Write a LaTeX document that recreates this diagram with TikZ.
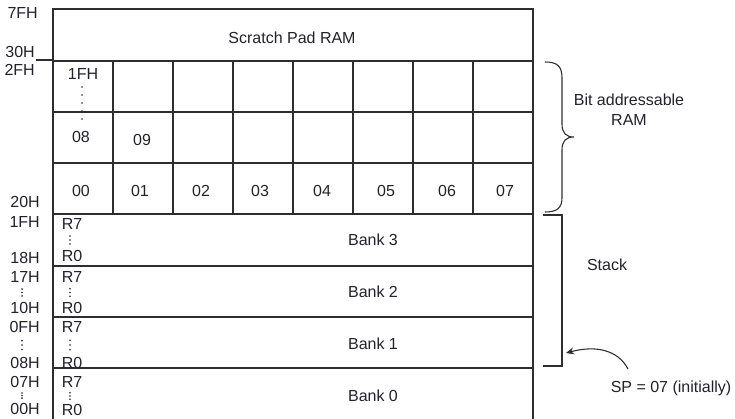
\documentclass[tikz,border=0pt]{standalone}
\usepackage{fontspec}
\setmainfont{Liberation Sans}
\usetikzlibrary{arrows.meta}
\definecolor{ink}{HTML}{222228}
\definecolor{rule}{HTML}{2E2E2E}
\begin{document}
\begin{tikzpicture}[x=1pt,y=-1pt,
  font=\fontsize{16}{19}\selectfont, text=ink,
  frame/.style={draw=rule, line width=1.6pt},
  cell/.style={frame, minimum width=60pt, minimum height=51pt, inner sep=0pt, anchor=north west},
  bankrow/.style={frame, minimum width=480pt, inner sep=0pt, anchor=north west},
  txt/.style={inner sep=0pt},
  addr/.style={inner sep=0pt, anchor=east},
  dotmark/.style={fill=ink, draw=none}]
\useasboundingbox (0,0) rectangle (735,419);

% scratch pad area
\node[frame, minimum width=480pt, minimum height=52pt, inner sep=0pt, anchor=north west] (scratch) at (52,8) {};
\node[txt] (scratchlbl) at (292,38) {Scratch Pad RAM};
\draw[frame] (36,60) -- (52,60);

% bit addressable grid
\foreach \r/\y in {1/60,2/111,3/162}{
  \foreach \c in {0,...,7}{
    \node[cell] (c-\r-\c) at ({52+60*\c},\y) {};
  }
}
\node[txt] (t1fh) at (83,74) {1FH};
\node[txt] (t08) at (81,137) {08};
\node[txt] (t09) at (142,140) {09};
\foreach \c/\v/\dx in {0/00/-1,1/01/-2,2/02/-1,3/03/-2,4/04/0,5/05/4,6/06/5,7/07/3}{
  \node[txt] (b\v) at ({82+60*\c+\dx},191) {\v};
}
\foreach \y in {87,95,103,111,119}{ \fill[dotmark] (82,\y) circle (0.9pt); }

% register banks
\node[bankrow, minimum height=52pt] (bank3) at (52,213) {};
\node[bankrow, minimum height=51pt] (bank2) at (52,265) {};
\node[bankrow, minimum height=51pt] (bank1) at (52,316) {};
\node[bankrow, minimum height=53pt] (bank0) at (52,367) {};
\foreach \n/\top/\bot/\mid in {3/224/256/240, 2/277/308/292, 1/327/363/344, 0/382/410/396}{
  \node[txt] (r7-\n) at (72,\top) {R7};
  \node[txt] (r0-\n) at (72,\bot) {R0};
  \node[txt] (bl-\n) at (373,\mid) {Bank \n};
  \foreach \k in {0.3,0.5,0.7}{
    \fill[dotmark] (70,{\top+6+(\bot-\top-12)*\k}) circle (0.9pt);
  }
}

% address labels
\node[addr] (a7f) at (38,13) {7FH};
\node[addr] (a30) at (35,52) {30H};
\node[addr] (a2f) at (35,70) {2FH};
\node[addr] (a20) at (40,202) {20H};
\node[addr] (a1f) at (40,222) {1FH};
\node[addr] (a18) at (40,258) {18H};
\node[addr] (a17) at (40,277) {17H};
\node[addr] (a10) at (40,308) {10H};
\node[addr] (a0f) at (40,327) {0FH};
\node[addr] (a08) at (40,363) {08H};
\node[addr] (a07) at (40,382) {07H};
\node[addr] (a00) at (40,409) {00H};
\foreach \ya/\yb in {277/308, 327/363, 382/409}{
  \foreach \k in {0.3,0.5,0.7}{
    \fill[dotmark] (22,{\ya+7+(\yb-\ya-14)*\k}) circle (0.9pt);
  }
}

% brace for the bit addressable area
\draw[rule, line width=1.1pt]
  (545,62) .. controls (557,62) and (562,66) .. (562,78) -- (562,124)
  .. controls (562,133) and (566,137) .. (574,137)
  .. controls (566,137) and (562,141) .. (562,150) -- (562,198)
  .. controls (562,208) and (557,212) .. (545,212);
\node[txt] (bitlbl1) at (629,100) {Bit addressable};
\node[txt] (bitlbl2) at (629,120) {RAM};

% stack bracket
\draw[rule, line width=1.1pt] (543,215) -- (562,215) -- (562,366) -- (543,366);
\node[txt] (stacklbl) at (607,265) {Stack};

% stack pointer note
\node[txt] (sp) at (671,388) {SP = 07 (initially)};
\coordinate (spfrom) at (628,369);
\coordinate (spto) at (566,353);
\draw[rule, line width=1.1pt, -{Stealth[length=8pt,width=7pt]}]
  (spfrom) .. controls (618,350) and (596,345) .. (spto);
\end{tikzpicture}
\end{document}
